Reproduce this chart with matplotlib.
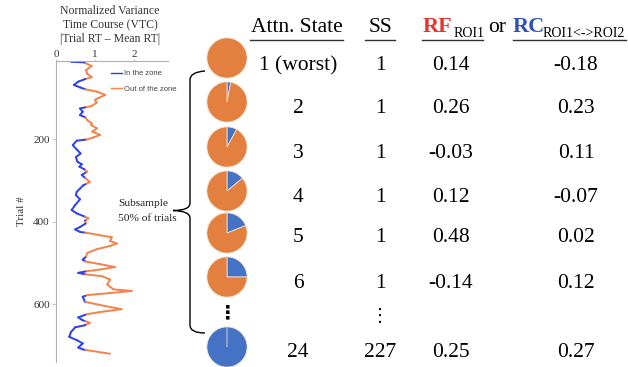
import numpy as np
import matplotlib
matplotlib.use("Agg")
import matplotlib.pyplot as plt
from matplotlib.collections import LineCollection
from matplotlib.lines import Line2D
from matplotlib.path import Path
from matplotlib.patches import PathPatch

plt.rcParams['font.family'] = ['Liberation Serif', 'DejaVu Serif']

# VTC trace (trial number, normalized |RT - mean RT|)
trial = [13, 14, 23, 33, 42, 50, 55, 61, 69, 75, 80, 85, 93, 101, 105, 112, 120, 126, 134, 142,
         147, 154, 162, 166, 174, 182, 190, 196, 201, 204, 215, 225, 235, 244, 255, 261, 267, 273, 279, 287,
         304, 312, 320, 328, 336, 346, 360, 372, 380, 388, 392, 398, 404, 413, 419, 425, 427, 433, 438, 447,
         453, 459, 467, 476, 485, 492, 497, 503, 510, 516, 520, 524, 528, 532, 540, 552, 564, 568, 573, 578,
         582, 594, 602, 612, 619, 624, 632, 639, 645, 651, 656, 668, 679, 687, 695, 705, 710, 720]
vtc = [0.385, 0.70, 0.915, 0.77, 0.80, 0.915, 0.74, 0.57, 0.46, 0.615, 0.77, 1.04, 1.26, 1.08, 1.0, 1.04, 0.915, 0.615, 0.685, 0.615,
       0.74, 0.80, 0.915, 0.90, 1.05, 0.93, 1.13, 0.96, 0.80, 0.53, 0.43, 0.53, 0.63, 0.51, 0.55, 0.66, 0.60, 0.72, 0.80, 0.66,
       0.87, 0.70, 0.615, 0.53, 0.51, 0.615, 0.49, 0.40, 0.53, 0.74, 0.83, 0.74, 0.77, 0.615, 0.49, 0.615, 0.77, 1.13, 1.43, 1.385,
       1.56, 1.385, 1.04, 0.80, 0.77, 0.685, 0.77, 1.13, 1.51, 1.13, 0.80, 0.57, 0.77, 1.17, 1.385, 1.315, 1.47, 1.94, 1.385, 0.80,
       0.685, 0.74, 1.13, 1.68, 1.13, 0.80, 0.57, 0.685, 0.87, 0.74, 0.49, 0.38, 0.34, 0.53, 0.685, 0.57, 0.71, 1.385]
zone_thr = 0.75

# table
attn_states = ['1 (worst)', '2', '3', '4', '5', '6', '24']
ss = ['1', '1', '1', '1', '1', '1', '227']
rf = ['0.14', '0.26', '-0.03', '0.12', '0.48', '-0.14', '0.25']
rc = ['-0.18', '0.23', '0.11', '-0.07', '0.02', '0.12', '0.27']
blue_frac = [0.0, 0.03, 0.08, 0.14, 0.19, 0.25, 1.0]

c_in = '#2b3ff0'
c_out = '#f4824a'
pie_blue = '#4472c4'
pie_orange = '#e3803f'

W, H = 628, 367
fig = plt.figure(figsize=(W / 100, H / 100), dpi=100)

# ---- VTC axes
ax = fig.add_axes([56 / W, 5 / H, 112 / W, 301 / H])
ax.patch.set_visible(False)
segs, cols = [], []
for i in range(len(trial) - 1):
    x0, y0, x1, y1 = vtc[i], trial[i], vtc[i + 1], trial[i + 1]
    a0, a1 = x0 < zone_thr, x1 < zone_thr
    if a0 == a1:
        segs.append([(x0, y0), (x1, y1)])
        cols.append(c_in if a0 else c_out)
    else:
        f = (zone_thr - x0) / (x1 - x0)
        ym = y0 + f * (y1 - y0)
        segs.append([(x0, y0), (zone_thr, ym)])
        cols.append(c_in if a0 else c_out)
        segs.append([(zone_thr, ym), (x1, y1)])
        cols.append(c_in if a1 else c_out)
ax.add_collection(LineCollection(segs, colors=cols, linewidths=1.4, capstyle='round', joinstyle='round'))
ax.set_xlim(0, 2.87)
ax.set_ylim(740, 11)
ax.xaxis.tick_top()
ax.set_xticks([0, 1, 2])
ax.set_yticks([200, 400, 600])
ax.tick_params(width=0.6, color='#bbbbbb', labelsize=8, labelcolor='#333333')
ax.tick_params(axis='x', length=1.5, pad=0)
ax.tick_params(axis='y', length=3, pad=1.5)
for s in ['right', 'bottom']:
    ax.spines[s].set_visible(False)
for s in ['left', 'top']:
    ax.spines[s].set_color('#b0b0b0')
    ax.spines[s].set_linewidth(0.8)
ax.set_ylabel('Trial #', fontsize=8, color='#333333', labelpad=5)
handles = [Line2D([], [], color=c_in, lw=1), Line2D([], [], color=c_out, lw=1)]
ax.legend(handles, ['In the zone', 'Out of the zone'], loc='upper left', bbox_to_anchor=(0.49, 0.97),
          frameon=False, prop={'family': 'Liberation Sans', 'size': 5.5}, labelcolor='#444444',
          handlelength=1.4, handletextpad=0.35, labelspacing=1.05, borderpad=0, borderaxespad=0)
fig.text(110 / W, 1 - 25 / H, 'Normalized Variance\nTime Course (VTC)\n|Trial RT \u2013 Mean RT|',
         ha='center', va='center', fontsize=8.5, color='#333333', linespacing=1.25)

# ---- overlay in pixel coordinates for table, bracket, labels
ov = fig.add_axes([0, 0, 1, 1])
ov.set_xlim(0, W)
ov.set_ylim(H, 0)
ov.axis('off')

verts = [(205, 71), (190, 72), (190, 80), (190, 203), (190, 210.5), (173, 210.5),
         (190, 211), (190, 218), (190, 325), (190, 333), (205, 333)]
codes = [Path.MOVETO, Path.CURVE3, Path.CURVE3, Path.LINETO, Path.CURVE3, Path.CURVE3,
         Path.CURVE3, Path.CURVE3, Path.LINETO, Path.CURVE3, Path.CURVE3]
ov.add_patch(PathPatch(Path(verts, codes), fill=False, lw=1.0, ec='black'))
ov.text(118, 204, 'Subsample', fontsize=8.2, va='center', ha='left', color='#222222')
ov.text(118, 218.5, '50% of trials', fontsize=8.2, va='center', ha='left', color='#222222')

# headers
hs = 15.5
ov.text(297, 32, 'Attn. State', fontsize=hs, ha='center', va='baseline')
ov.text(380, 32, 'SS', fontsize=hs, ha='center', va='baseline')
ov.text(423, 32, 'RF', fontsize=16, fontweight='bold', color='#e8352b', ha='left', va='baseline')
ov.text(454, 37, 'ROI1', fontsize=10, ha='left', va='baseline')
ov.text(488, 32, 'or', fontsize=hs, ha='left', va='baseline')
ov.text(513, 32, 'RC', fontsize=16, fontweight='bold', color='#2f50b4', ha='left', va='baseline')
ov.text(543, 37, 'ROI1<->ROI2', fontsize=10, ha='left', va='baseline')
for x0, x1 in [(250, 343), (365, 395), (422, 483), (513, 626)]:
    ov.plot([x0, x1], [40, 40], color='#333333', lw=1.0)

row_base = [70, 113, 158, 202, 242, 288, 357]
for i in range(len(attn_states)):
    yb = row_base[i]
    ov.text(298, yb, attn_states[i], fontsize=hs, ha='center', va='baseline')
    ov.text(380, yb, ss[i], fontsize=hs, ha='center', va='baseline')
    ov.text(451, yb, rf[i], fontsize=hs, ha='center', va='baseline')
    ov.text(576, yb, rc[i], fontsize=hs, ha='center', va='baseline')
ov.text(380, 316, '\u22ee', fontsize=13, ha='center', va='center', family='DejaVu Sans')
ov.text(228, 313, '\u22ee', fontsize=14, ha='center', va='center', family='DejaVu Sans', fontweight='bold')

# pies
pie_y = [58, 102, 147, 191, 233, 277, 347]
r = 20.5
for i, fb in enumerate(blue_frac):
    cy = pie_y[i]
    pa = fig.add_axes([(227 - r) / W, (H - cy - r) / H, 2 * r / W, 2 * r / H])
    pa.pie([fb, 1 - fb], colors=[pie_blue, pie_orange], startangle=90, counterclock=False,
           wedgeprops=dict(edgecolor='#f0e0d0', linewidth=0.6))
    pa.set_xlim(-1.02, 1.02)
    pa.set_ylim(-1.02, 1.02)

fig.savefig('out.png', dpi=100)
